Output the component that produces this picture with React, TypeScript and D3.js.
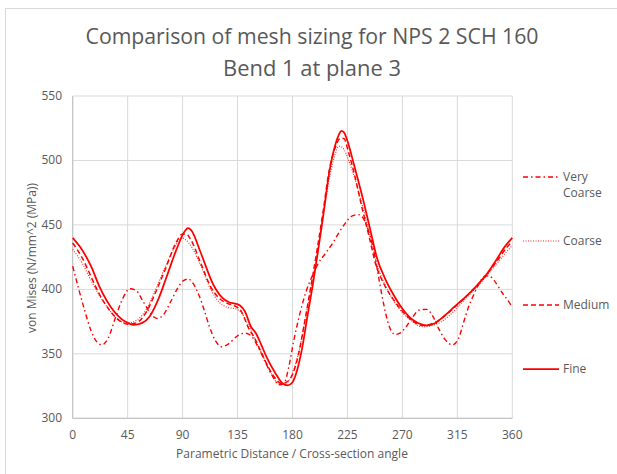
import React from "react";
import * as d3 from "d3";

type P = [number, number];

const title1 = "Comparison of mesh sizing for NPS 2 SCH 160";
const title2 = "Bend 1 at plane 3";
const xTitle = "Parametric Distance / Cross-section angle";
const yTitle = "von Mises (N/mm^2 (MPa))";
const xTicks = [0, 45, 90, 135, 180, 225, 270, 315, 360];
const yTicks = [300, 350, 400, 450, 500, 550];

const fine: P[] = [
  [0, 440], [6, 433], [15, 418], [22, 402], [33, 384], [43, 375], [50, 372.5], [57, 374], [63, 379],
  [70, 392], [77, 410], [85, 431], [91, 444], [94.5, 447.5], [97, 446], [105, 428], [115, 404],
  [122, 394], [128, 390], [133, 389], [137, 387.5], [141, 383], [146, 371], [150, 366], [154, 358],
  [159, 347], [166, 335], [172, 327], [176, 325.5], [180, 328], [184, 338], [188, 355], [192, 378],
  [196, 400], [200, 424], [205, 456], [210, 490], [215, 512], [218, 520], [220, 523], [222, 522],
  [226, 512], [230, 498], [238, 469], [244, 445], [249, 425], [256, 408], [262, 397], [270, 385],
  [279, 376], [285, 373], [290, 372], [297, 374], [305, 380], [312, 386], [318, 391], [325, 397],
  [333, 405], [340, 413], [347, 423], [353, 432], [360, 440],
];

const medium: P[] = [
  [0, 436], [8, 424], [15, 410], [22, 396], [30, 384], [38, 376], [45, 373], [52, 374], [60, 382],
  [68, 398], [76, 416], [84, 435], [90, 443], [93, 443], [97, 438], [105, 420], [113, 402],
  [120, 393], [127, 389], [133, 387], [138, 383], [144, 370], [149, 362], [154, 352], [160, 340],
  [166, 331], [171, 327], [175, 328], [180, 334], [185, 350], [190, 375], [195, 402], [200, 430],
  [205, 460], [210, 492], [215, 510], [219, 517], [222, 517], [226, 506], [230, 492], [237, 463],
  [243, 440], [248, 420], [255, 404], [262, 393], [270, 383], [278, 376], [286, 372], [293, 373],
  [300, 376], [308, 382], [316, 389], [325, 397], [333, 405], [341, 414], [349, 424], [355, 432],
  [360, 437],
];

const coarse: P[] = [
  [0, 431], [8, 420], [15, 407], [22, 395], [30, 384], [38, 376], [45, 374], [52, 376], [60, 384],
  [68, 400], [76, 418], [83, 432], [89, 440], [93, 438], [98, 432], [105, 418], [113, 400],
  [120, 390], [127, 386], [133, 385], [138, 382], [144, 372], [150, 360], [156, 348], [162, 336],
  [167, 328], [171, 326], [176, 328], [181, 338], [186, 355], [191, 380], [196, 405], [201, 432],
  [206, 462], [211, 490], [215, 505], [218, 511], [221, 510], [226, 500], [231, 486], [238, 462],
  [244, 440], [249, 420], [256, 403], [263, 391], [270, 382], [278, 375], [286, 371], [294, 372],
  [302, 375], [310, 381], [318, 389], [326, 397], [334, 405], [342, 414], [350, 423], [356, 430],
  [360, 434],
];

const veryCoarse: P[] = [
  [0, 418], [5, 400], [10, 383], [15, 368], [20, 359], [24, 357], [29, 362], [35, 378], [41, 393],
  [47, 400.5], [52, 399], [58, 390], [64, 381], [69, 377.5], [74, 380], [80, 390], [86, 401],
  [91, 407], [95, 408], [99, 404], [104, 394], [108, 383], [112, 371], [117, 360], [122, 355.5],
  [128, 358], [135, 364], [141, 366], [146, 364], [152, 355], [158, 343], [164, 332], [169, 326],
  [173, 327], [177, 340], [181, 360], [186, 381], [191, 398], [196, 410], [201, 420], [207, 428],
  [213, 436], [218, 444], [223, 451], [229, 457], [234, 458], [238, 455], [243, 443], [247, 428],
  [251, 407], [255, 387], [259, 372], [264, 365], [268, 366], [273, 371], [278, 378], [284, 384],
  [290, 384.5], [295, 379], [300, 369], [305, 361], [311, 357], [316, 362], [320, 374], [324, 386],
  [328, 395], [332, 403], [337, 410], [341, 410.5], [345, 407], [352, 397], [356, 392], [360, 386],
];

const seriesNames = ["Very Coarse", "Coarse", "Medium", "Fine"];

export default function App() {
  const W = 617, H = 474;
  const left = 72.7, right = 512.3, top = 96, bottom = 418.3;
  const x = d3.scaleLinear().domain([0, 360]).range([left, right]);
  const y = d3.scaleLinear().domain([300, 550]).range([bottom, top]);
  const line = d3.line<P>().x(d => x(d[0])).y(d => y(d[1])).curve(d3.curveMonotoneX);
  const red = "#ff0000";
  const grid = "#d9d9d9";
  const txt = "#595959";
  const font = "'Open Sans', 'Noto Sans', sans-serif";

  const series = [
    { name: seriesNames[0], data: veryCoarse, dash: "5,3,1.5,3", w: 1.4, op: 1 },
    { name: seriesNames[1], data: coarse, dash: "1,1.5", w: 1.1, op: 0.85 },
    { name: seriesNames[2], data: medium, dash: "5,3", w: 1.5, op: 1 },
    { name: seriesNames[3], data: fine, dash: "", w: 1.75, op: 1 },
  ];
  const legendY = [177, 241, 305, 369];

  return (
    <svg width={W} height={H} style={{ position: "absolute", left: 0, top: 0, background: "#fff" }} fontFamily={font}>
      <rect x={5.5} y={8.5} width={640} height={500} fill="#fff" stroke={grid} strokeWidth={1} />
      <text x={312} y={44} textAnchor="middle" fontSize={22} fill={txt} textLength={453} lengthAdjust="spacingAndGlyphs">{title1}</text>
      <text x={312} y={76} textAnchor="middle" fontSize={22} fill={txt} textLength={178} lengthAdjust="spacingAndGlyphs">{title2}</text>
      {yTicks.map(t => (
        <g key={"y" + t}>
          <line x1={left} x2={right} y1={y(t)} y2={y(t)} stroke={grid} strokeWidth={1} />
          <text x={62} y={y(t) + 4} textAnchor="end" fontSize={12} fill={txt}>{t}</text>
        </g>
      ))}
      {xTicks.map(t => (
        <g key={"x" + t}>
          <line x1={x(t)} x2={x(t)} y1={top} y2={bottom} stroke={grid} strokeWidth={1} />
          <text x={x(t)} y={439} textAnchor="middle" fontSize={12} fill={txt}>{t}</text>
        </g>
      ))}
      <line x1={left} x2={right} y1={bottom} y2={bottom} stroke="#bfbfbf" strokeWidth={1} />
      <line x1={left} x2={left} y1={top} y2={bottom} stroke="#bfbfbf" strokeWidth={1} />
      {series.map(s => (
        <path key={s.name} d={line(s.data) || ""} fill="none" stroke={red} strokeOpacity={s.op} strokeWidth={s.w} strokeDasharray={s.dash} />
      ))}
      <text x={292} y={458} textAnchor="middle" fontSize={12} fill={txt}>{xTitle}</text>
      <text transform={`translate(36,258) rotate(-90)`} textAnchor="middle" fontSize={12} fill={txt}>{yTitle}</text>
      {series.map((s, i) => (
        <g key={"lg" + s.name}>
          <line x1={523} x2={559} y1={legendY[i]} y2={legendY[i]} stroke={red} strokeOpacity={s.op} strokeWidth={s.w} strokeDasharray={s.dash} />
          {s.name === "Very Coarse" ? (
            <text x={563} y={legendY[i] + 4} fontSize={12} fill={txt}>
              <tspan x={563}>Very</tspan>
              <tspan x={563} dy={16}>Coarse</tspan>
            </text>
          ) : (
            <text x={563} y={legendY[i] + 4} fontSize={12} fill={txt}>{s.name}</text>
          )}
        </g>
      ))}
    </svg>
  );
}
